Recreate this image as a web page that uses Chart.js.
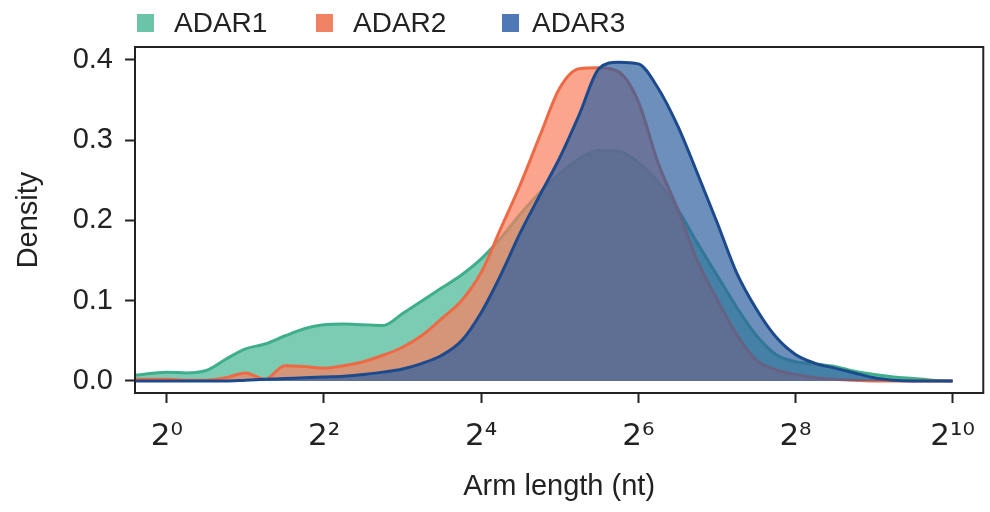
<!DOCTYPE html>
<html>
<head>
<meta charset="utf-8">
<script src="https://cdn.jsdelivr.net/npm/chart.js@4/dist/chart.umd.min.js"></script>
<style>
  html, body { margin: 0; padding: 0; background: #ffffff; }
  #wrap { width: 990px; height: 512px; }
</style>
</head>
<body>
<div id="wrap"><canvas id="c" width="990" height="512"></canvas></div>
<script>
// ---- data (x in log2 of arm length, y = density) ----
const armLog2 = [-0.4, 0, 0.25, 0.5, 0.75, 1, 1.25, 1.5, 1.75, 2, 2.25, 2.5, 2.75, 3, 3.25, 3.5, 3.75, 4, 4.25, 4.5, 4.75, 5, 5.25, 5.5, 5.75, 6, 6.25, 6.5, 6.75, 7, 7.25, 7.5, 7.75, 8, 8.25, 8.5, 8.75, 9, 9.25, 9.5, 9.75, 10];
const adar1 = [0.007, 0.011, 0.010, 0.013, 0.027, 0.040, 0.046, 0.056, 0.065, 0.070, 0.071, 0.070, 0.069, 0.084, 0.100, 0.116, 0.132, 0.152, 0.178, 0.208, 0.235, 0.258, 0.277, 0.287, 0.286, 0.272, 0.248, 0.214, 0.172, 0.132, 0.092, 0.057, 0.033, 0.024, 0.021, 0.018, 0.012, 0.008, 0.005, 0.003, 0.001, 0.000];
const adar2 = [0.002, 0.002, 0.001, 0.001, 0.004, 0.010, 0.002, 0.019, 0.018, 0.016, 0.019, 0.024, 0.032, 0.042, 0.057, 0.078, 0.100, 0.135, 0.190, 0.245, 0.306, 0.365, 0.389, 0.390, 0.385, 0.348, 0.272, 0.214, 0.150, 0.102, 0.058, 0.026, 0.014, 0.008, 0.004, 0.002, 0.001, 0.000, 0.000, 0.000, 0.000, 0.000];
const adar3 = [0.000, 0.000, 0.000, 0.000, 0.000, 0.001, 0.002, 0.003, 0.004, 0.005, 0.006, 0.008, 0.011, 0.015, 0.022, 0.032, 0.050, 0.085, 0.132, 0.185, 0.232, 0.278, 0.332, 0.389, 0.397, 0.395, 0.365, 0.318, 0.259, 0.198, 0.135, 0.090, 0.055, 0.033, 0.022, 0.016, 0.010, 0.004, 0.001, 0.000, 0.000, 0.000];
const seriesNames = ['ADAR1', 'ADAR2', 'ADAR3'];
const xTickExp = [0, 2, 4, 6, 8, 10];
const xTickLabels = ['2\u2070', '2\u00B2', '2\u2074', '2\u2076', '2\u2078', '2\u00B9\u2070'];
const yTicks = [0, 0.1, 0.2, 0.3, 0.4];
const yTickLabels = ['0.0', '0.1', '0.2', '0.3', '0.4'];

// ---- styles ----
const FONT = "'Liberation Sans', Arial, Helvetica, sans-serif";
const SUPFONT = "'DejaVu Sans', sans-serif";
const fills = ['rgba(69,183,148,0.7)', 'rgba(250,126,94,0.7)', 'rgba(46,96,160,0.7)'];
const lines = ['#3fae8a', '#ee6a45', '#1c4a8c'];
const legendSwatch = ['#6cc4a8', '#ef8262', '#4f78b6'];

function pts(ys) { return armLog2.map((x, i) => ({ x: x, y: ys[i] })); }

const datasets = [adar1, adar2, adar3].map((ys, i) => ({
  label: seriesNames[i],
  data: pts(ys),
  backgroundColor: fills[i],
  borderColor: lines[i],
  borderWidth: 3,
  fill: 'origin',
  pointRadius: 0,
  cubicInterpolationMode: 'monotone',
  order: 3 - i
}));

const frame = {
  id: 'frame',
  afterDraw(chart) {
    const { ctx, chartArea: a } = chart;
    ctx.save();
    ctx.strokeStyle = '#222';
    ctx.lineWidth = 2;
    ctx.strokeRect(a.left, a.top, a.right - a.left, a.bottom - a.top);
    ctx.restore();
  }
};

const topLegend = {
  id: 'topLegend',
  afterDraw(chart) {
    const ctx = chart.ctx;
    const boxX = [137, 316, 502];
    const textX = [174, 353, 532];
    ctx.save();
    ctx.font = "28px " + FONT;
    ctx.textBaseline = 'middle';
    ctx.textAlign = 'left';
    seriesNames.forEach((n, i) => {
      ctx.fillStyle = legendSwatch[i];
      ctx.fillRect(boxX[i], 14, 17, 18);
      ctx.fillStyle = '#222';
      ctx.fillText(n, textX[i], 24);
    });
    ctx.restore();
  }
};

new Chart(document.getElementById('c'), {
  type: 'line',
  data: { datasets },
  plugins: [frame, topLegend],
  options: {
    responsive: false,
    animation: false,
    events: [],
    layout: { padding: { top: 47, right: 2, bottom: 0, left: 0 } },
    plugins: { legend: { display: false }, tooltip: { enabled: false } },
    scales: {
      x: {
        type: 'linear',
        min: -0.405,
        max: 10.39,
        afterFit(s) { s.height = 119; },
        afterBuildTicks(s) { s.ticks = xTickExp.map(v => ({ value: v })); },
        ticks: {
          autoSkip: false,
          maxRotation: 0,
          padding: 15,
          color: '#222',
          font: { family: SUPFONT, size: 31 },
          callback(v) { const k = xTickExp.indexOf(v); return k >= 0 ? xTickLabels[k] : ''; }
        },
        grid: { display: true, drawOnChartArea: false, drawTicks: true, tickLength: 10, tickColor: '#222', tickWidth: 2 },
        border: { display: false },
        title: { display: true, text: 'Arm length (nt)', color: '#222', font: { family: FONT, size: 29 }, padding: { top: 8, bottom: 8 } }
      },
      y: {
        type: 'linear',
        min: -0.015,
        max: 0.416,
        afterFit(s) { s.width = 135; },
        afterBuildTicks(s) { s.ticks = yTicks.map(v => ({ value: v })); },
        ticks: {
          padding: 12,
          color: '#222',
          font: { family: FONT, size: 29 },
          callback(v) { const k = yTicks.indexOf(v); return k >= 0 ? yTickLabels[k] : ''; }
        },
        grid: { display: true, drawOnChartArea: false, drawTicks: true, tickLength: 10, tickColor: '#222', tickWidth: 2 },
        border: { display: false },
        title: { display: true, text: 'Density', color: '#222', font: { family: FONT, size: 29 }, padding: { top: 12, bottom: 12 } }
      }
    }
  }
});
</script>
</body>
</html>
